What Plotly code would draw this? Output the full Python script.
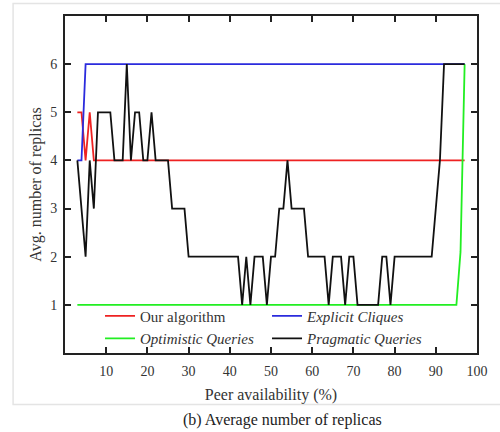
import plotly.graph_objects as go

# ---- data ----
our_x = [3, 4, 5, 6, 7, 97]
our_y = [5, 5, 4, 5, 4, 4]

cliques_x = [3, 4, 5, 97]
cliques_y = [4, 4, 6, 6]

optimistic_x = [3, 95, 96, 97]
optimistic_y = [1, 1, 2.1, 6]

pragmatic_x = [3, 5, 6, 7, 8, 11, 12, 14, 15, 16, 17, 18, 19, 20, 21, 22, 25, 26, 29, 30,
               42, 43, 44, 45, 46, 48, 49, 50, 51, 52, 53, 54, 55, 58, 59, 63, 64, 65, 67,
               68, 69, 70, 71, 76, 77, 78, 79, 80, 89, 90, 91, 92, 97]
pragmatic_y = [4, 2, 4, 3, 5, 5, 4, 4, 6, 4, 5, 5, 4, 4, 5, 4, 4, 3, 3, 2,
               2, 1, 2, 1, 2, 2, 1, 2, 2, 3, 3, 4, 3, 3, 2, 2, 1, 2, 2,
               1, 2, 2, 1, 1, 2, 2, 1, 2, 2, 3, 4, 6, 6]

x_ticks = [10, 20, 30, 40, 50, 60, 70, 80, 90, 100]
y_ticks = [1, 2, 3, 4, 5, 6]

FONT = "Liberation Serif, Times New Roman, DejaVu Serif, serif"
TXT = "#333333"

fig = go.Figure()
fig.add_trace(go.Scatter(x=our_x, y=our_y, mode="lines", name="Our algorithm",
                         line=dict(color="#ee2222", width=1.8)))
fig.add_trace(go.Scatter(x=cliques_x, y=cliques_y, mode="lines", name="<i>Explicit Cliques</i>",
                         line=dict(color="#2b2bdd", width=1.8)))
fig.add_trace(go.Scatter(x=optimistic_x, y=optimistic_y, mode="lines", name="<i>Optimistic Queries</i>",
                         line=dict(color="#22ee22", width=1.8)))
fig.add_trace(go.Scatter(x=pragmatic_x, y=pragmatic_y, mode="lines", name="<i>Pragmatic Queries</i>",
                         line=dict(color="#111111", width=1.8)))

axis_common = dict(showline=True, linecolor="#222222", linewidth=2, mirror="ticks",
                   ticks="inside", ticklen=6, tickwidth=1.5, tickcolor="#222222",
                   showgrid=False, zeroline=False,
                   tickfont=dict(family=FONT, size=14, color=TXT))

fig.update_xaxes(range=[0, 100], tickvals=x_ticks,
                 title=dict(text="Peer availability (%)", font=dict(family=FONT, size=16, color=TXT), standoff=11),
                 ticklabelstandoff=4, **axis_common)
fig.update_yaxes(range=[0, 7], tickvals=y_ticks,
                 title=dict(text="Avg. number of replicas", font=dict(family=FONT, size=16, color=TXT), standoff=5),
                 ticklabelstandoff=3, **axis_common)

fig.update_layout(
    width=500, height=432,
    margin=dict(l=65, r=15, t=16, b=79),
    paper_bgcolor="white", plot_bgcolor="white",
    font=dict(family=FONT),
    showlegend=True,
    legend=dict(orientation="h", x=0.085, xanchor="left", y=-0.005, yanchor="bottom",
                entrywidth=122, entrywidthmode="pixels",
                font=dict(family=FONT, size=15, color=TXT),
                bgcolor="rgba(0,0,0,0)", tracegroupgap=0, itemwidth=30),
    shapes=[dict(type="rect", xref="paper", yref="paper", x0=-0.126, x1=1.2, y0=-0.153, y1=1.037,
                 line=dict(color="#e4e4e4", width=1.5), layer="below")],
    annotations=[dict(text="(b) Average number of replicas", xref="paper", yref="paper",
                      x=0.5286, y=-0.198, xanchor="center", yanchor="middle", showarrow=False,
                      font=dict(family=FONT, size=16, color="#222222"))],
)

fig.write_html("out.html")
